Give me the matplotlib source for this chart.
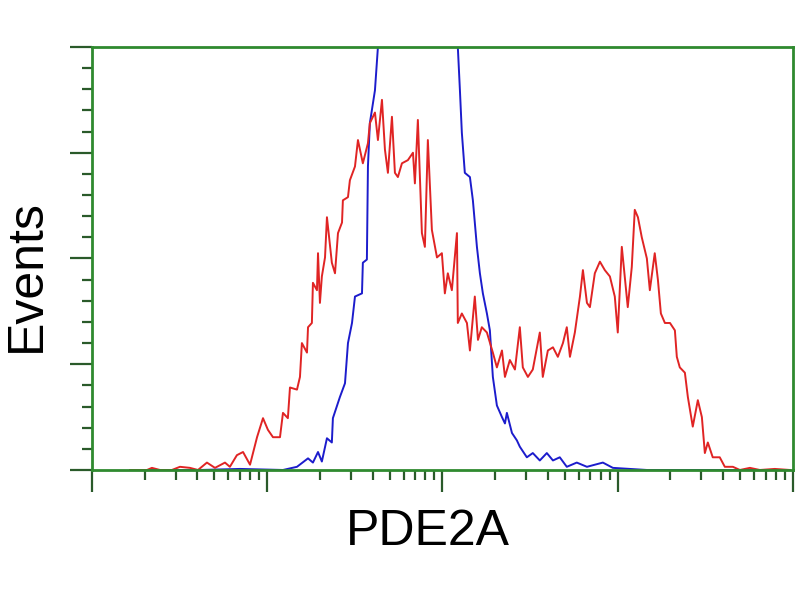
import numpy as np
import matplotlib.pyplot as plt
from matplotlib.ticker import LogLocator, MultipleLocator, NullFormatter

# fluorescence intensity (log10 decades) and event counts
red_log = [0.217, 0.314, 0.342, 0.388, 0.456, 0.502, 0.559, 0.605, 0.656, 0.702,
           0.759, 0.787, 0.827, 0.862, 0.902, 0.942, 0.976, 1.004, 1.033, 1.073,
           1.090, 1.118, 1.130, 1.170, 1.187, 1.198, 1.227, 1.233, 1.255, 1.261,
           1.284, 1.290, 1.301, 1.312, 1.330, 1.341, 1.369, 1.387, 1.404, 1.427,
           1.432, 1.461, 1.472, 1.501, 1.518, 1.546, 1.575, 1.586, 1.615, 1.632,
           1.655, 1.672, 1.689, 1.712, 1.729, 1.746, 1.769, 1.803, 1.832, 1.843,
           1.860, 1.883, 1.900, 1.917, 1.940, 1.969, 1.997, 2.014, 2.031, 2.054,
           2.083, 2.088, 2.111, 2.140, 2.157, 2.185, 2.203, 2.225, 2.254, 2.288,
           2.311, 2.340, 2.357, 2.385, 2.414, 2.442, 2.459, 2.488, 2.516, 2.556,
           2.573, 2.602, 2.631, 2.659, 2.688, 2.710, 2.728, 2.756, 2.785, 2.802,
           2.825, 2.842, 2.870, 2.899, 2.927, 2.956, 2.984, 3.001, 3.024, 3.041,
           3.058, 3.081, 3.098, 3.116, 3.138, 3.167, 3.184, 3.212, 3.230, 3.247,
           3.270, 3.299, 3.327, 3.338, 3.355, 3.384, 3.401, 3.429, 3.458, 3.481,
           3.498, 3.515, 3.543, 3.583, 3.612, 3.658, 3.698, 3.755, 3.812, 3.897,
           3.983]
red_counts = [0, 0, 2, 0, 0, 3, 2, 0, 7, 2,
              7, 3, 14, 17, 5, 31, 49, 38, 31, 31,
              54, 49, 78, 76, 88, 120, 111, 135, 139, 177,
              170, 205, 158, 183, 201, 239, 196, 186, 224, 234,
              255, 258, 274, 287, 312, 290, 309, 328, 338, 312,
              350, 303, 281, 334, 281, 277, 290, 293, 300, 271,
              331, 224, 211, 312, 227, 201, 205, 167, 186, 170,
              224, 139, 148, 139, 113, 164, 123, 135, 130, 111,
              97, 113, 88, 104, 95, 135, 97, 88, 95, 130,
              88, 113, 116, 107, 120, 135, 107, 130, 164, 189,
              158, 154, 186, 197, 189, 183, 164, 130, 211, 183,
              154, 192, 246, 239, 220, 200, 170, 205, 180, 148,
              139, 139, 132, 107, 97, 92, 69, 41, 66, 50,
              16, 26, 12, 12, 3, 3, 0, 2, 0, 1,
              0]

blue_log = [0.331, 0.616, 0.845, 1.090, 1.170, 1.233, 1.261, 1.290, 1.312, 1.341,
            1.369, 1.375, 1.415, 1.444, 1.461, 1.484, 1.501, 1.541, 1.546, 1.569,
            1.575, 1.586, 1.615, 1.632, 1.672, 1.757, 1.872, 1.986, 2.054, 2.088,
            2.100, 2.111, 2.128, 2.157, 2.174, 2.197, 2.214, 2.231, 2.254, 2.271,
            2.288, 2.311, 2.340, 2.357, 2.368, 2.397, 2.425, 2.442, 2.482, 2.516,
            2.556, 2.596, 2.631, 2.670, 2.710, 2.767, 2.825, 2.916, 2.973, 3.070,
            3.167, 3.469, 3.983]
blue_counts = [0, 0, 1, 0, 3, 11, 7, 17, 8, 30,
               26, 49, 69, 82, 120, 139, 164, 167, 196, 199,
               287, 328, 359, 400, 470, 540, 580, 540, 460, 400,
               359, 319, 281, 277, 255, 211, 186, 167, 148, 132,
               88, 61, 50, 44, 54, 35, 28, 22, 12, 16,
               9, 16, 9, 12, 3, 7, 3, 7, 2, 1,
               0, 0, 0]

green = '#2f8a2f'

fig = plt.figure(figsize=(8, 6), dpi=100)
ax = fig.add_axes([0.115, 0.2167, 0.876, 0.705])

ax.plot(10 ** np.array(blue_log), blue_counts, color='#1c1ccc', lw=1.4)
ax.plot(10 ** np.array(red_log), red_counts, color='#e02424', lw=1.4)

ax.set_xscale('log')
ax.set_xlim(1, 10 ** 4)
ax.set_ylim(0, 400)

ax.xaxis.set_major_locator(LogLocator(base=10, numticks=10))
ax.xaxis.set_minor_locator(LogLocator(base=10, subs=np.arange(2, 10), numticks=100))
ax.yaxis.set_major_locator(MultipleLocator(100))
ax.yaxis.set_minor_locator(MultipleLocator(20))
ax.xaxis.set_major_formatter(NullFormatter())
ax.xaxis.set_minor_formatter(NullFormatter())
ax.yaxis.set_major_formatter(NullFormatter())

for s in ax.spines.values():
    s.set_color(green)
    s.set_linewidth(2)

ax.tick_params(which='major', direction='out', length=16, width=1.6, color='#2a5a2a')
ax.tick_params(which='minor', direction='out', length=7, width=1.6, color='#2a5a2a')

# axis titles placed where they sit in the original
fig.text(0.535, 0.114, 'PDE2A', fontsize=36, family='Liberation Sans',
         ha='center', va='center')
fig.text(0.033, 0.541, 'Events', fontsize=36, family='Liberation Sans',
         ha='center', va='center', rotation=90)

fig.savefig('out.png')
